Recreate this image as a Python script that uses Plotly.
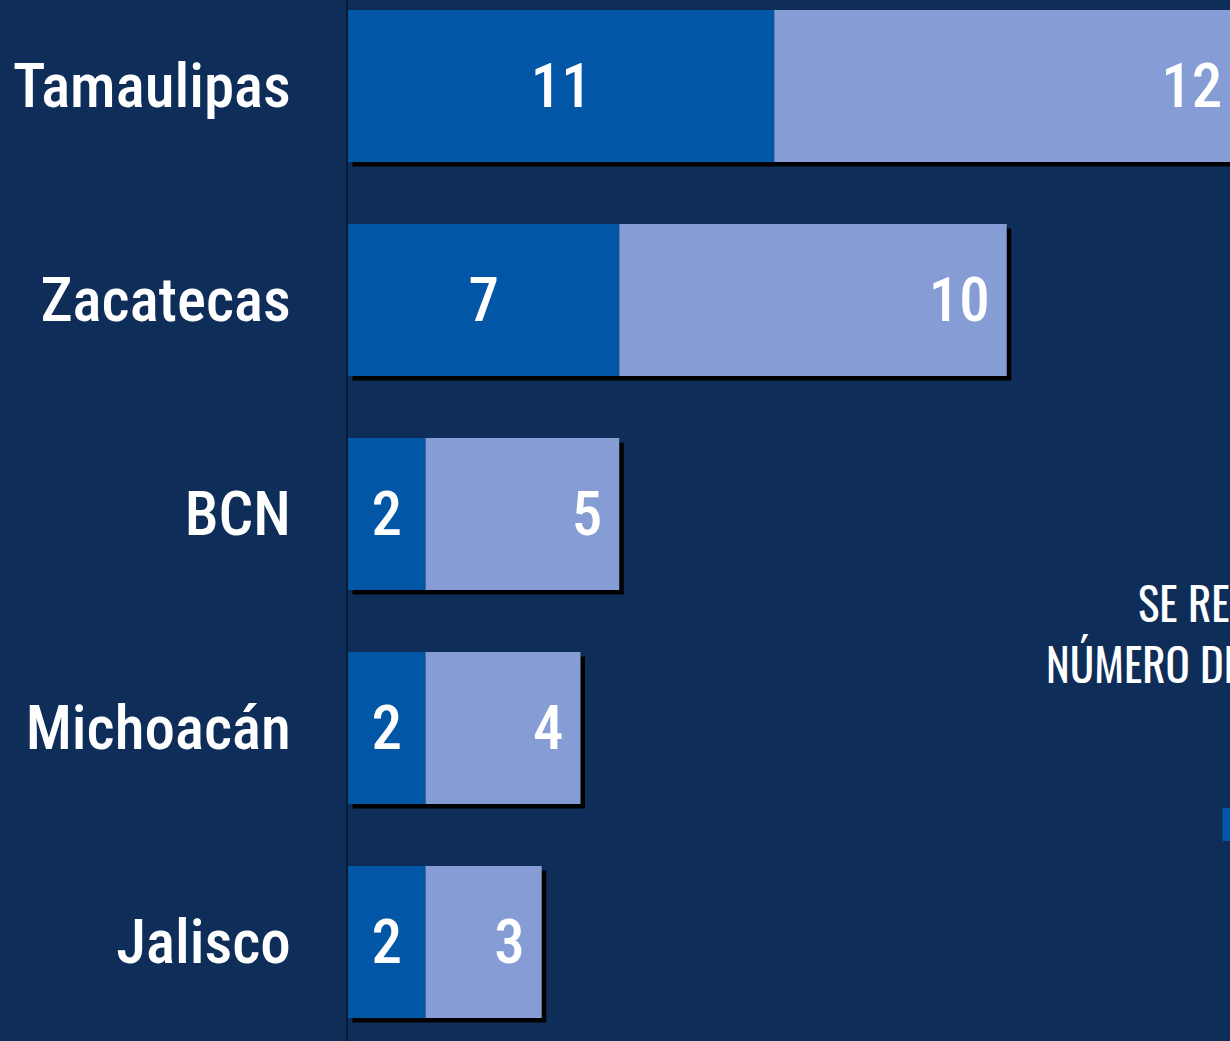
import plotly.graph_objects as go

# ---- data ----
estados = ["Tamaulipas", "Zacatecas", "BCN", "Michoacán", "Jalisco"]
serie_a = [11, 7, 2, 2, 2]      # dark segment
serie_b = [12, 10, 5, 4, 3]     # light segment
nota_linea1 = "SE REPORTA EL"
nota_linea2 = "NÚMERO DE CASOS"

# ---- style ----
BG = "#0e2e59"
DARK = "#0256a6"
LIGHT = "#859cd4"
FONT = "Roboto Condensed, Liberation Sans, sans-serif"
NOTE_FONT = "Oswald, Roboto Condensed, sans-serif"
WEIGHT = 500
W, H = 1230, 1041
L_MARGIN = 348
PX_PER_UNIT = 38.75
PX_PER_CAT = 214
BAR_W = 0.71
SHADOW_PX = 4.5

totals = [a + b for a, b in zip(serie_a, serie_b)]
dx = SHADOW_PX / PX_PER_UNIT
dy = SHADOW_PX / PX_PER_CAT

fig = go.Figure()

# drop shadow
fig.add_trace(go.Bar(
    y=estados, x=totals, base=[dx] * len(estados), orientation="h",
    width=BAR_W, offset=-BAR_W / 2 + dy,
    marker=dict(color="#000000", line=dict(width=0)),
    hoverinfo="skip", showlegend=False,
))
# dark segment
fig.add_trace(go.Bar(
    y=estados, x=serie_a, base=[0] * len(estados), orientation="h",
    width=BAR_W, offset=-BAR_W / 2,
    marker=dict(color=DARK, line=dict(width=0)),
    text=[str(v) for v in serie_a], textposition="inside",
    insidetextanchor="middle",
    textfont=dict(family=FONT, size=61, color="white", weight=WEIGHT),
    showlegend=False,
))
# light segment
fig.add_trace(go.Bar(
    y=estados, x=serie_b, base=serie_a, orientation="h",
    width=BAR_W, offset=-BAR_W / 2,
    marker=dict(color=LIGHT, line=dict(width=0)),
    text=[str(v) + "\u00a0" for v in serie_b], textposition="inside",
    insidetextanchor="end",
    textfont=dict(family=FONT, size=61, color="white", weight=WEIGHT),
    showlegend=False,
))

plot_w = W - L_MARGIN
top_i = -86 / PX_PER_CAT
bot_i = (H - 86) / PX_PER_CAT

fig.update_layout(
    width=W, height=H,
    margin=dict(l=L_MARGIN, r=0, t=0, b=0, pad=0, autoexpand=False),
    paper_bgcolor=BG, plot_bgcolor=BG,
    barmode="overlay",
    showlegend=False,
    xaxis=dict(range=[0, plot_w / PX_PER_UNIT], visible=False, fixedrange=True),
    yaxis=dict(
        range=[bot_i, top_i], showgrid=False, zeroline=False, automargin=False,
        showline=True, linecolor="#071a36", linewidth=2,
        ticks="", ticklabelstandoff=43, fixedrange=True,
        tickfont=dict(family=FONT, size=61, color="white", weight=WEIGHT),
    ),
    shapes=[dict(
        type="rect", xref="paper", yref="paper",
        x0=(1222.5 - L_MARGIN) / plot_w, x1=1.05,
        y0=1 - 841 / H, y1=1 - 808 / H,
        fillcolor=DARK, line=dict(width=0),
    )],
    annotations=[
        dict(text=nota_linea1, xref="paper", yref="paper",
             x=(1136 - L_MARGIN) / plot_w, y=1 - 601 / H,
             xanchor="left", yanchor="middle", showarrow=False,
             font=dict(family=NOTE_FONT, size=45, color="white")),
        dict(text=nota_linea2, xref="paper", yref="paper",
             x=(1044 - L_MARGIN) / plot_w, y=1 - 662 / H,
             xanchor="left", yanchor="middle", showarrow=False,
             font=dict(family=NOTE_FONT, size=45, color="white")),
    ],
)

fig.write_html("out.html", config={"displayModeBar": False},
               post_script="document.body.style.margin='0';")
